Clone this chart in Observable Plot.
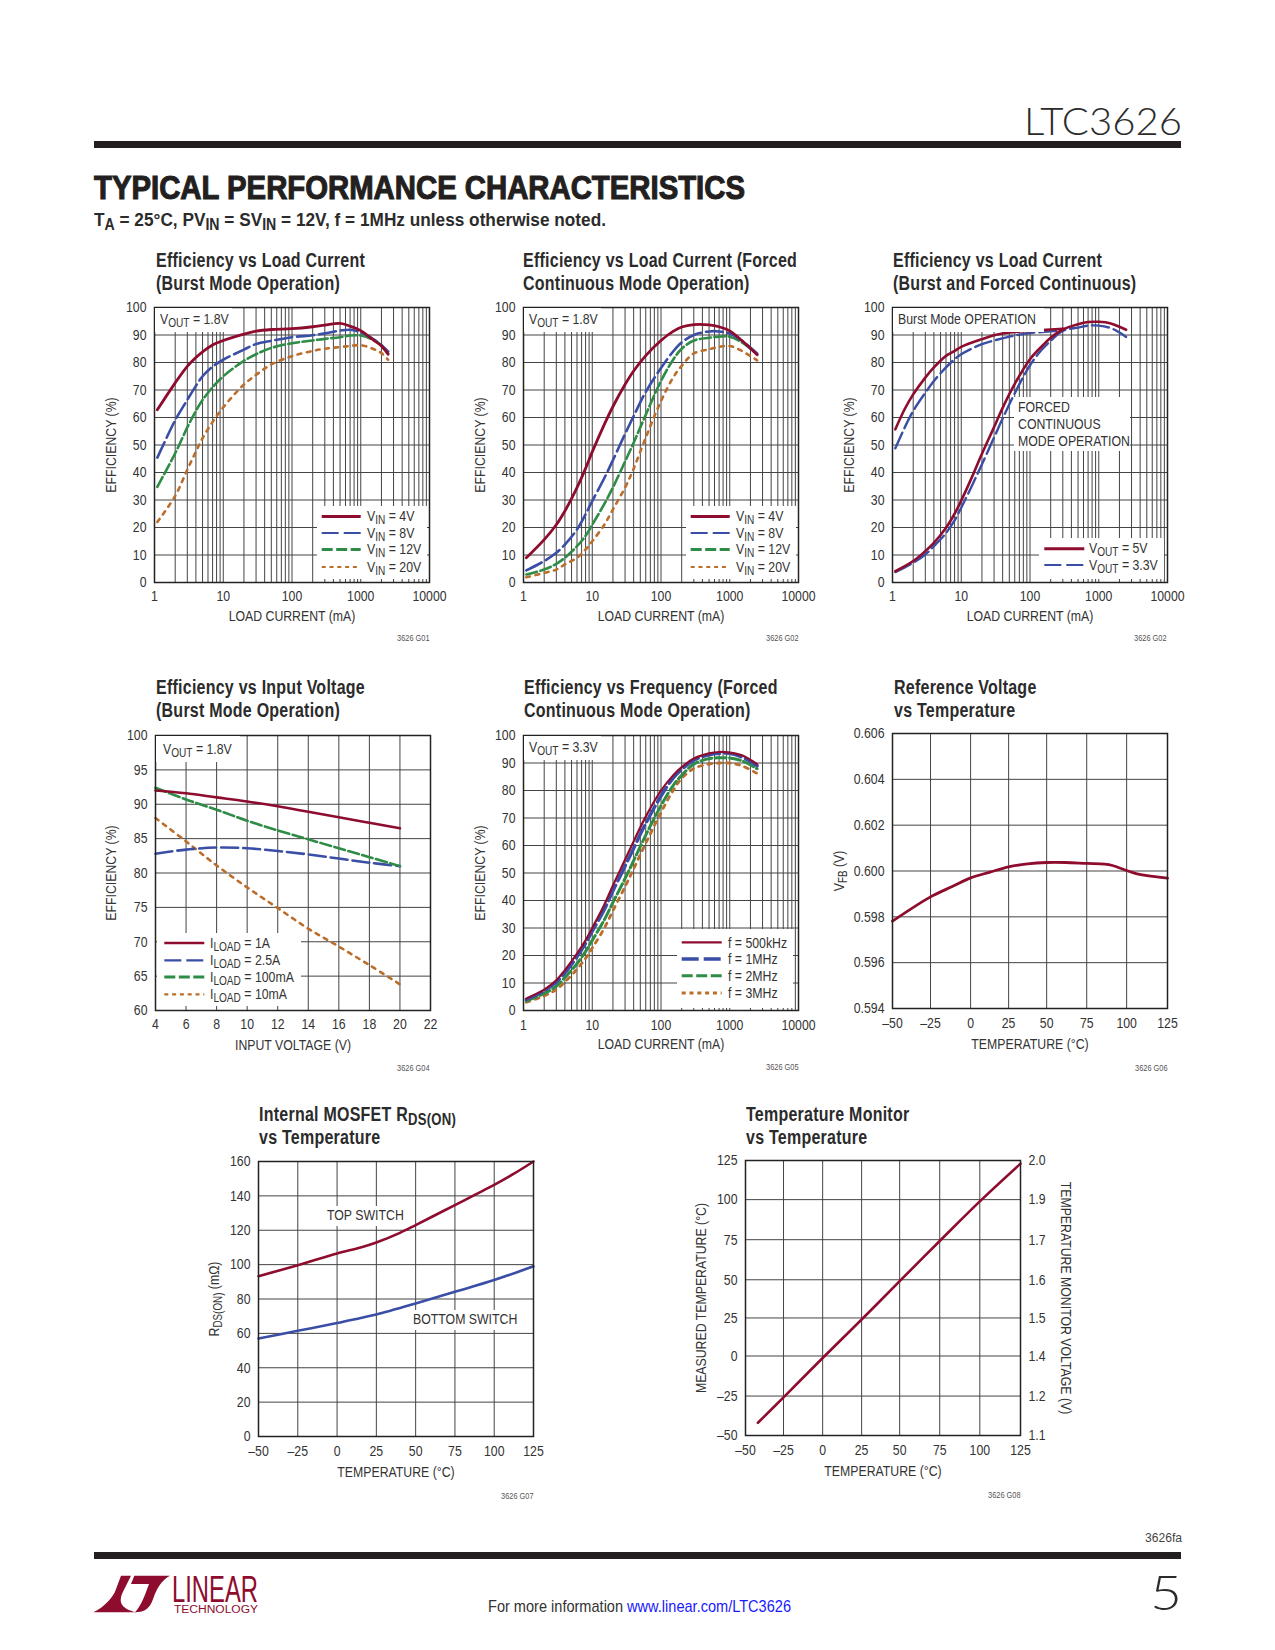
<!DOCTYPE html>
<html><head><meta charset="utf-8">
<script src="https://cdn.jsdelivr.net/npm/d3@7"></script>
<script src="https://cdn.jsdelivr.net/npm/@observablehq/plot@0.6"></script>
<style>
html,body{margin:0;padding:0;background:#fff}
#page{position:relative;width:1275px;height:1650px;overflow:hidden;font-family:"Liberation Sans",sans-serif;color:#333}
.abs{position:absolute;white-space:nowrap;line-height:1}
.chart{position:absolute;width:275px;height:275px}
.chart svg.plot{position:absolute;overflow:visible;background:transparent;max-width:none!important}
.title{position:absolute;left:0;font-weight:bold;font-size:19.5px;color:#2b2b2b;white-space:nowrap;line-height:23px;letter-spacing:.3px;transform:scaleX(.82);transform-origin:0 0}
.code{position:absolute;right:0;font-size:9px;color:#555;white-space:nowrap;line-height:1;transform:scaleX(.82);transform-origin:100% 0}
.mask{position:absolute;background:#fff}
.note{position:absolute;font-size:15px;line-height:1;white-space:nowrap;color:#333;transform:scaleX(.82) translateY(calc(-50% - 1px));transform-origin:0 0}
sub{font-size:82%;vertical-align:-.28em;line-height:0}
</style></head><body><div id="page"></div>
<script>
// ---------- shared axes and grids ----------
const logTicks = [1,10,100,1000,10000];
const logGrid = [2,3,4,5,6,7,8,9,10,20,30,40,50,60,70,80,90,100,200,300,400,500,600,700,800,900,1000,2000,3000,4000,5000,6000,7000,8000,9000];
const effTicks = [0,10,20,30,40,50,60,70,80,90,100];
const tempLabels = ["–50","–25","0","25","50","75","100","125"];
const red="#8e0c2e", blue="#3b4ea6", green="#2f8c47", orange="#bb6e2b";

// ---------- chart 1: efficiency vs load, Burst ----------
const c1Load = [1.1,2,3,4,5,7,10,20,30,50,100,200,300,500,700,1000,1500,2000,2500];
const c1V4  = [62.8,72.6,78.6,81.8,83.9,86.4,88,90.3,91.4,92,92.3,93,93.6,94.2,93.2,91.6,88.3,86,83];
const c1V8  = [45.4,59,66.4,71.5,75,78.5,81,84.7,86.7,87.9,89.2,89.9,90.6,91.6,91.9,91,88.6,86.3,84];
const c1V12 = [34.8,47,56.4,62.4,66.4,71,75,80.6,83,85.3,87,88,88.6,89.2,89.8,89.8,88.3,86.3,83.4];
const c1V20 = [22,31.5,41,47.6,52.5,58.4,63.7,72,75.5,79.3,82.3,84.2,85,85.6,86,86.3,85,83.4,81];

// ---------- chart 2: efficiency vs load, Forced Continuous ----------
const c2Load = [1.1,2,3,4,6,8,10,15,20,30,40,60,100,150,200,300,500,700,1000,1500,2500];
const c2V4  = [9,15.6,21,26,34.5,41.5,47.5,57.5,64,72,76.9,82.5,88,91.3,92.9,93.8,93.7,93,91.5,88,82.8];
const c2V8  = [4.4,7.8,10.8,13.8,19.3,24.8,29.6,38,44.5,54,60.5,69.3,78,84,87.3,90,91.3,91.3,90.5,87.9,83.3];
const c2V12 = [2.9,4.7,6.8,9,13.2,17,21,28.6,34.6,44,50.8,61,73.3,81,85,88,89,89.4,89.4,87.3,83];
const c2V20 = [1.9,3.5,4.7,6.6,9,12,15,21,26.6,34.5,41.4,52.7,66,74.5,78.8,83.3,84.8,85.7,86,84.2,80.8];

// ---------- chart 3: Burst and Forced Continuous ----------
const c3BurstLoad = [1.1,1.5,2,3,4,6,8,10,20,30,50,100,200,300];
const c3Burst5  = [55.7,63,68.4,74.5,78.2,82.4,84.2,85.7,88.5,89.9,90.9,91.5,92,92.3];
const c3Burst33 = [48.8,56.3,62.4,69,73.3,78.2,81.2,83,86.7,88,89.4,90.7,91.3,91.6];
const c3ForcedLoad = [1.1,2,3,4,6,8,10,15,20,30,40,60,100,150,200,300,500,700,1000,1500,2000,2500];
const c3Forced5  = [4.1,7.8,11.4,14.4,19.9,25,29.8,39.5,46.8,56.5,63.5,72.2,81.2,86,89,92,93.9,94.7,94.8,94.2,93,91.9];
const c3Forced33 = [3.8,7.2,10.2,13.2,18,22.6,27.2,36.3,43,52.7,59.6,68.8,79,84.8,87.9,91.5,92.7,93.4,93.4,92.5,90.9,89.3];

// ---------- chart 4: efficiency vs input voltage ----------
const c4Vin = [4,6,8,10,12,14,16,18,20];
const c4A1   = [92,91.6,91,90.4,89.7,88.9,88.1,87.3,86.5];
const c4A25  = [82.8,83.4,83.7,83.6,83.2,82.7,82.1,81.5,81];
const c4M100 = [92.4,90.7,89.2,87.6,86.2,84.9,83.6,82.3,81];
const c4M10  = [88,84.6,81.1,77.9,74.9,71.9,69.3,66.6,63.8];
const c4XTicks = [4,6,8,10,12,14,16,18,20,22];
const c4YTicks = [60,65,70,75,80,85,90,95,100];

// ---------- chart 5: efficiency vs frequency ----------
const c5Load = [1.1,2,3,4,6,8,10,15,20,30,40,60,100,150,200,300,500,700,1000,1500,2500];
const c5F500 = [4.4,7.6,11,14.7,20.7,25.5,30,38.5,45.5,54.8,61.5,70.5,80,85.5,88.5,91.6,93.5,94,93.8,92.8,89.6];
const c5F1M  = [4,7.2,10.4,13.7,19.5,24.4,28.8,36.7,43.5,52.5,59,68,78,84.5,87.7,91,93,93.5,93.5,92.2,89];
const c5F2M  = [3.5,6.2,8.8,12,17,21.5,25.5,33,39.3,48,54.5,63.8,74.5,81.8,85.5,89.6,91.6,91.9,91.8,90.8,87.9];
const c5F3M  = [3,5.3,7.6,10.4,15,19,22.7,30,36.3,45,51.5,60.8,72,80,84.4,88,89.6,90,90,89,86.2];

// ---------- chart 6: reference voltage ----------
const c6Temp = [-50,-25.8,-12,-0.3,12,23.9,36,48.1,60,73.6,85,90,99,105,112,125];
const c6Vfb  = [0.59781,0.59887,0.59932,0.5997,0.59995,0.60018,0.60031,0.60037,0.60037,0.60033,0.6003,0.60024,0.60002,0.59989,0.5998,0.59969];
const c6XGrid = [-50,-25.8,-0.3,23.9,48.1,73.6,99,125];
const c6YTicks = [0.594,0.596,0.598,0.6,0.602,0.604,0.606];

// ---------- chart 7: RDS(ON) ----------
const c7TopTemp = [-50,-25,0,15,25,40,50,62,75,87,100,112,125];
const c7Top = [93.3,99.7,106.5,110,112.9,118.5,123,128.6,134.6,140.3,146.4,152.6,160];
const c7BotTemp = [-50,-25,0,15,25,50,75,100,125];
const c7Bot = [57,61.5,66,69,71,77.4,84.2,91,99];
const c7XTicks = [-50,-25,0,25,50,75,100,125];
const c7YTicks = [0,20,40,60,80,100,120,140,160];

// ---------- chart 8: temperature monitor ----------
const c8Temp = [-42.1,-25.8,-0.9,23.9,48.1,73.6,99.1,125];
const c8Meas = [-41.9,-25.7,-0.7,23.8,48.2,73.8,99,123];
const c8XGrid = [-50,-25.8,-0.9,23.9,48.1,73.6,99.1,125];
const c8YGrid = [-50,-24.9,0.6,24.8,49.1,74.6,100.1,125];
const c8LeftLabels = ["–50","–25","0","25","50","75","100","125"];
const c8RightLabels = ["1.1","1.2","1.4","1.5","1.6","1.7","1.9","2.0"];

// ---------- helpers ----------
const page = document.getElementById("page");
const rich = s => s.replace(/_\{(.*?)\}/g,"<sub>$1</sub>");
const FONT = '"Liberation Sans",sans-serif';
function series(x,y,name){return x.map((v,i)=>({x:v,y:y[i],name}));}
function subscript(svg){
  svg.querySelectorAll("text").forEach(t=>{
    if(!t.textContent.includes("_{")) return;
    const NS="http://www.w3.org/2000/svg", parts=t.textContent.split(/_\{(.*?)\}/);
    t.textContent="";
    parts.forEach((p,i)=>{ if(!p) return;
      const s=document.createElementNS(NS,"tspan"); s.textContent=p;
      if(i%2){s.setAttribute("font-size","80%");s.setAttribute("dy",".28em");}
      else if(i>0){s.setAttribute("dy","-.22em");}
      t.appendChild(s);});
  });
}
function narrow(svg){
  svg.querySelectorAll("text").forEach(t=>{
    const x=parseFloat(t.getAttribute("x"));
    if(x) t.setAttribute("x",x/.82);
    t.setAttribute("transform",(t.getAttribute("transform")||"")+" scale(.82,1)");
  });
}
function lineMark(data,color,dash,width){
  return Plot.line(data,{x:"x",y:"y",stroke:color,strokeWidth:width,strokeDasharray:dash,curve:"catmull-rom"});
}
function chart(o){
  const ml=70, mr=o.marginRight??30, mt=6, mb=52;
  const wrap=document.createElement("div"); wrap.className="chart";
  wrap.style.left=o.left+"px"; wrap.style.top=o.top+"px";
  page.appendChild(wrap);
  const marks=[];
  if(o.gridX) marks.push(Plot.ruleX(o.gridX,{stroke:"#444",strokeWidth:1}));
  if(o.gridY) marks.push(Plot.ruleY(o.gridY,{stroke:"#444",strokeWidth:1}));
  marks.push(...o.lines);
  marks.push(Plot.axisX({ticks:o.xTicks,tickFormat:o.xFormat,tickSize:0,tickPadding:o.tickPad??8,fontSize:15,
    label:o.xLabel,labelAnchor:"center",labelArrow:"none",labelOffset:o.xOffset??38}));
  marks.push(Plot.axisY({ticks:o.yTicks,tickFormat:o.yFormat,tickSize:0,tickPadding:8,fontSize:15,
    label:o.yLabel,labelAnchor:"center",labelArrow:"none",labelOffset:o.yOffset??49.5}));
  if(o.extra) marks.push(...o.extra);
  marks.push(Plot.frame({stroke:"#222",strokeWidth:1.5}));
  const p=Plot.plot({width:ml+275+mr,height:mt+275+mb,marginLeft:ml,marginRight:mr,marginTop:mt,marginBottom:mb,
    x:o.x,y:o.y,style:{fontFamily:FONT,fontSize:"15px",color:"#333",background:"transparent",overflow:"visible",maxWidth:"none"},marks});
  p.classList.add("plot");
  p.style.left=(-ml)+"px"; p.style.top=(-mt)+"px";
  subscript(p); narrow(p);
  wrap.appendChild(p);
  const t=document.createElement("div"); t.className="title"; t.style.top=(o.titleTop??-58)+"px"; t.style.left=(o.titleLeft??1)+"px";
  t.innerHTML=o.title.map(rich).join("<br>"); wrap.appendChild(t);
  const c=document.createElement("div"); c.className="code"; c.style.top=(o.codeTop??327)+"px"; c.textContent=o.code; wrap.appendChild(c);
  (o.masks||[]).forEach(m=>addMask(wrap,m));
  (o.notes||[]).forEach(n=>addNote(wrap,n));
  if(o.legend) addLegend(wrap,o.legend);
  return wrap;
}
function addMask(wrap,[x0,y0,x1,y1]){
  const d=document.createElement("div"); d.className="mask";
  d.style.cssText=`left:${x0}px;top:${y0}px;width:${x1-x0}px;height:${y1-y0}px`;
  wrap.appendChild(d);
}
function addNote(wrap,[x,y,text]){
  const d=document.createElement("div"); d.className="note";
  d.style.left=x+"px"; d.style.top=y+"px"; d.innerHTML=rich(text); wrap.appendChild(d);
}
function addLegend(wrap,L){
  addMask(wrap,L.box);
  const NS="http://www.w3.org/2000/svg";
  const s=document.createElementNS(NS,"svg");
  s.setAttribute("width",275);s.setAttribute("height",275);
  s.style.cssText="position:absolute;left:0;top:0;overflow:visible";
  L.rows.forEach((r,i)=>{
    const l=document.createElementNS(NS,"line");
    l.setAttribute("x1",L.lineX[0]);l.setAttribute("x2",L.lineX[1]);
    l.setAttribute("y1",L.y[i]);l.setAttribute("y2",L.y[i]);
    l.setAttribute("stroke",r.color);l.setAttribute("stroke-width",r.width);
    if(r.dash) l.setAttribute("stroke-dasharray",r.dash);
    s.appendChild(l);
  });
  wrap.appendChild(s);
  L.rows.forEach((r,i)=>addNote(wrap,[L.textX,L.y[i],r.label]));
}
const DL="17 5", DM="11 3.5", DS="3.8 5.6", DSL="4 3.8";
const burstRows=[
 {label:"V_{IN} = 4V",color:red,width:3},
 {label:"V_{IN} = 8V",color:blue,width:2.2,dash:DL},
 {label:"V_{IN} = 12V",color:green,width:3,dash:DM},
 {label:"V_{IN} = 20V",color:orange,width:2.2,dash:DSL}];
const effY={domain:[0,100]};

// ---------- page furniture ----------
function abs(css,html){const d=document.createElement("div");d.className="abs";d.style.cssText=css;d.innerHTML=html;page.appendChild(d);return d;}
function fit(el,w){const r=el.getBoundingClientRect().width;el.style.transformOrigin="0 50%";el.style.transform=`scaleX(${w/r})`;return el;}
fit(abs("left:1024px;top:98px;font:300 37.5px Lato,'Open Sans',sans-serif;color:#2b2b2b","LTC3626"),158);
abs("left:94px;top:141px;width:1087px;height:7px;background:#231f20","");
fit(abs("left:94px;top:169px;font:bold 33px 'Liberation Sans',sans-serif;color:#231f20;-webkit-text-stroke:1.1px #231f20","TYPICAL PERFORMANCE CHARACTERISTICS"),651);
fit(abs("left:94px;top:209px;font:bold 19px "+FONT+";color:#2b2b2b",rich("T_{A} = 25°C, PV_{IN} = SV_{IN} = 12V, f = 1MHz unless otherwise noted.")),512);
fit(abs("left:1145px;top:1530px;font:13px "+FONT+";color:#444","3626fa"),37);
abs("left:94px;top:1552px;width:1087px;height:7px;background:#231f20","");
fit(abs("left:1150px;top:1564px;font:300 47px Lato,'Open Sans',sans-serif;color:#2b2b2b","5"),32);
fit(abs("left:488px;top:1597px;font:17px "+FONT+";color:#333","For more information <span style='color:#1a1aff'>www.linear.com/LTC3626</span>"),303);
abs("left:85px;top:1560px","<svg width='90' height='70' viewBox='0 0 270 210' style='display:block'>"+
 "<path fill='#8e0c2e' d='M25 157C60 140 85 110 92 90L108 47L138 47L114 95C100 125 105 145 155 157Z'/>"+
 "<path fill='#8e0c2e' d='M148 47L255 47C230 60 215 85 205 115C195 145 180 157 150 157C170 135 180 105 192 72L138 72Z'/></svg>");
fit(abs("left:172px;top:1575.9px;font:37px/28px "+FONT+";color:#8e0c2e","LINEAR"),86);
fit(abs("left:174px;top:1603.5px;font:11.7px/9.4px "+FONT+";color:#8e0c2e","TECHNOLOGY"),84);

// ---------- the eight charts ----------
chart({left:154.3,top:306.7,x:{type:"log",domain:[1,10000]},y:effY,gridX:logGrid,gridY:effTicks.slice(1,-1),xTicks:logTicks,xFormat:String,yTicks:effTicks,
 xLabel:"LOAD CURRENT (mA)",yLabel:"EFFICIENCY (%)",code:"3626 G01",titleLeft:1.7,title:["Efficiency vs Load Current","(Burst Mode Operation)"],
 lines:[lineMark(series(c1Load,c1V20,"20"),orange,DS,2.6),lineMark(series(c1Load,c1V12,"12"),green,DM,2.6),lineMark(series(c1Load,c1V8,"8"),blue,DL,2.6),lineMark(series(c1Load,c1V4,"4"),red,null,2.8)],
 masks:[[1,1,78,25]],notes:[[6,12,"V_{OUT} = 1.8V"]],
 legend:{box:[162.7,199,272.7,272.3],rows:burstRows,lineX:[167.7,206.7],textX:212.7,y:[209.6,226,242.6,260]}});
chart({left:523.3,top:306.7,x:{type:"log",domain:[1,10000]},y:effY,gridX:logGrid,gridY:effTicks.slice(1,-1),xTicks:logTicks,xFormat:String,yTicks:effTicks,
 xLabel:"LOAD CURRENT (mA)",yLabel:"EFFICIENCY (%)",code:"3626 G02",titleLeft:0,title:["Efficiency vs Load Current (Forced","Continuous Mode Operation)"],
 lines:[lineMark(series(c2Load,c2V20,"20"),orange,DS,2.6),lineMark(series(c2Load,c2V12,"12"),green,DM,2.6),lineMark(series(c2Load,c2V8,"8"),blue,DL,2.6),lineMark(series(c2Load,c2V4,"4"),red,null,2.8)],
 masks:[[1,1,78,25]],notes:[[6,12,"V_{OUT} = 1.8V"]],
 legend:{box:[162.7,199,272.7,272.3],rows:burstRows,lineX:[167.7,206.7],textX:212.7,y:[209.6,226,242.6,260]}});
chart({left:891.7,top:306.7,x:{type:"log",domain:[1,10000]},y:effY,gridX:logGrid,gridY:effTicks.slice(1,-1),xTicks:logTicks,xFormat:String,yTicks:effTicks,
 xLabel:"LOAD CURRENT (mA)",yLabel:"EFFICIENCY (%)",code:"3626 G02",title:["Efficiency vs Load Current","(Burst and Forced Continuous)"],
 lines:[lineMark(series(c3BurstLoad,c3Burst33,"b33"),blue,DL,2.4),lineMark(series(c3ForcedLoad,c3Forced33,"f33"),blue,DL,2.4),lineMark(series(c3BurstLoad,c3Burst5,"b5"),red,null,2.6),lineMark(series(c3ForcedLoad,c3Forced5,"f5"),red,null,2.6)],
 masks:[[1,1,152,25],[122.7,90,238.3,144]],notes:[[6,12,"Burst Mode OPERATION"],[126.7,100,"FORCED"],[126.7,117,"CONTINUOUS"],[126.7,134,"MODE OPERATION"]],
 legend:{box:[147.7,231.7,272.7,272.3],rows:[{label:"V_{OUT} = 5V",color:red,width:3},{label:"V_{OUT} = 3.3V",color:blue,width:2.2,dash:DL}],lineX:[152.3,192.3],textX:197.7,y:[241.7,258]}});
chart({left:154.7,top:734.7,x:{domain:[4,22]},y:{domain:[60,100]},gridX:c4XTicks.slice(1,-1),gridY:c4YTicks.slice(1,-1),xTicks:c4XTicks,xFormat:String,yTicks:c4YTicks,
 xLabel:"INPUT VOLTAGE (V)",yLabel:"EFFICIENCY (%)",yOffset:50.5,xOffset:39,code:"3626 G04",codeTop:329,titleTop:-59,title:["Efficiency vs Input Voltage","(Burst Mode Operation)"],
 lines:[lineMark(series(c4Vin,c4M10,"10"),orange,DS,2.6),lineMark(series(c4Vin,c4A25,"25"),blue,DL,2.6),lineMark(series(c4Vin,c4M100,"100"),green,DM,2.6),lineMark(series(c4Vin,c4A1,"1"),red,null,2.6)],
 masks:[[1,1,85,27]],notes:[[8,14,"V_{OUT} = 1.8V"]],
 legend:{box:[2,198.7,146,271],rows:[{label:"I_{LOAD} = 1A",color:red,width:2.4},{label:"I_{LOAD} = 2.5A",color:blue,width:2.2,dash:DL},{label:"I_{LOAD} = 100mA",color:green,width:3,dash:DM},{label:"I_{LOAD} = 10mA",color:orange,width:2.2,dash:DSL}],lineX:[9.3,49.3],textX:55.3,y:[208,225.3,242,259.3]}});
chart({left:523.3,top:735.3,x:{type:"log",domain:[1,10000]},y:effY,gridX:logGrid,gridY:effTicks.slice(1,-1),xTicks:logTicks,xFormat:String,yTicks:effTicks,
 xLabel:"LOAD CURRENT (mA)",yLabel:"EFFICIENCY (%)",tickPad:9,code:"3626 G05",codeTop:328,titleTop:-59,titleLeft:1,title:["Efficiency vs Frequency (Forced","Continuous Mode Operation)"],
 lines:[lineMark(series(c5Load,c5F3M,"3"),orange,DS,2.8),lineMark(series(c5Load,c5F2M,"2"),green,DM,3),lineMark(series(c5Load,c5F1M,"1"),blue,DL,3.4),lineMark(series(c5Load,c5F500,"500"),red,null,2.2)],
 masks:[[1,1,78,25]],notes:[[6,12,"V_{OUT} = 3.3V"]],
 legend:{box:[153.3,193.7,270,272.7],rows:[{label:"f = 500kHz",color:red,width:2.2},{label:"f = 1MHz",color:blue,width:3.6,dash:DL},{label:"f = 2MHz",color:green,width:3,dash:DM},{label:"f = 3MHz",color:orange,width:3,dash:DSL}],lineX:[158.7,198.7],textX:204.7,y:[207.3,224,240.7,258]}});
chart({left:892.3,top:733.3,x:{domain:[-50,125]},y:{domain:[0.594,0.606]},gridX:c6XGrid.slice(1,-1),gridY:c6YTicks.slice(1,-1),xTicks:c6XGrid,xFormat:d=>tempLabels[c6XGrid.indexOf(d)],yTicks:c6YTicks,yFormat:d3.format(".3f"),
 xLabel:"TEMPERATURE (°C)",yLabel:"V_{FB} (V)",yOffset:59,xOffset:40,tickPad:9,code:"3626 G06",codeTop:331,titleTop:-57,titleLeft:1.7,title:["Reference Voltage","vs Temperature"],
 lines:[lineMark(series(c6Temp,c6Vfb,"v"),red,null,2.8)]});
chart({left:258.3,top:1161.3,x:{domain:[-50,125]},y:{domain:[0,160]},gridX:c7XTicks.slice(1,-1),gridY:c7YTicks.slice(1,-1),xTicks:c7XTicks,xFormat:d=>tempLabels[c7XTicks.indexOf(d)],yTicks:c7YTicks,
 xLabel:"TEMPERATURE (°C)",yLabel:"R_{DS(ON)} (mΩ)",yOffset:50,xOffset:40,tickPad:9,code:"3626 G07",codeTop:331,titleTop:-58,title:["Internal MOSFET R_{DS(ON)}","vs Temperature"],
 lines:[lineMark(series(c7BotTemp,c7Bot,"b"),blue,null,2.6),lineMark(series(c7TopTemp,c7Top,"t"),red,null,2.6)],
 masks:[[66.7,44.7,145,64.7],[153.3,148.7,260,168.7]],notes:[[68.3,53.7,"TOP SWITCH"],[155,157.3,"BOTTOM SWITCH"]]});
chart({left:745.3,top:1160.3,marginRight:80,x:{domain:[-50,125]},y:{domain:[-50,125]},gridX:c8XGrid.slice(1,-1),gridY:c8YGrid.slice(1,-1),xTicks:c8XGrid,xFormat:d=>tempLabels[c8XGrid.indexOf(d)],yTicks:c8YGrid,yFormat:d=>c8LeftLabels[c8YGrid.indexOf(d)],
 xLabel:"TEMPERATURE (°C)",yLabel:"MEASURED TEMPERATURE (°C)",yOffset:50,xOffset:40,tickPad:9,code:"3626 G08",codeTop:331,titleTop:-57,title:["Temperature Monitor","vs Temperature"],
 lines:[lineMark(series(c8Temp,c8Meas,"m"),red,null,2.6)],
 extra:[Plot.axisY({anchor:"right",ticks:c8YGrid,tickFormat:d=>c8RightLabels[c8YGrid.indexOf(d)],tickSize:0,tickPadding:8,fontSize:15,label:null}),
        Plot.text(["TEMPERATURE MONITOR VOLTAGE (V)"],{frameAnchor:"right",rotate:90,dx:45,fontSize:15,fill:"#333",textAnchor:"middle"})]});
</script></body></html>
